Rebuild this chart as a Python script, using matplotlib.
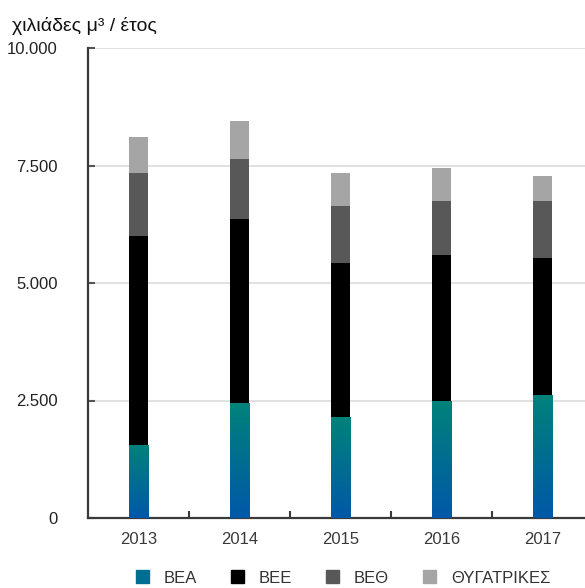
import numpy as np
import matplotlib.pyplot as plt
from matplotlib.colors import LinearSegmentedColormap
from matplotlib.patches import Patch

plt.rcParams['font.family'] = ['Liberation Sans', 'DejaVu Sans']

# Δεδομένα (χιλιάδες μ3 / έτος)
eti = ['2013', '2014', '2015', '2016', '2017']
bea = [1550, 2430, 2130, 2470, 2600]
bee = [4450, 3930, 3290, 3120, 2940]
beth = [1340, 1280, 1220, 1160, 1210]
thygatrikes = [760, 810, 700, 700, 530]
onomata = ['ΒΕΑ', 'ΒΕΕ', 'ΒΕΘ', 'ΘΥΓΑΤΡΙΚΕΣ']

xroma_bee = '#000000'
xroma_beth = '#585858'
xroma_thyg = '#a5a5a5'
diavathmisi = LinearSegmentedColormap.from_list('bea', ['#0058a8', '#00827a'])

fig = plt.figure(figsize=(5.85, 5.88), dpi=100)
ax = fig.add_axes([88 / 585, 1 - 518 / 588, 497 / 585, 470 / 588])

x = np.arange(len(eti))
platos = 0.19
bea = np.array(bea)
bee = np.array(bee)
beth = np.array(beth)
thygatrikes = np.array(thygatrikes)

rabdoi = ax.bar(x, bea, platos, color='none', zorder=3)
ax.bar(x, bee, platos, bottom=bea, color=xroma_bee, zorder=3)
ax.bar(x, beth, platos, bottom=bea + bee, color=xroma_beth, zorder=3)
ax.bar(x, thygatrikes, platos, bottom=bea + bee + beth, color=xroma_thyg, zorder=3)

# χρωματική διαβάθμιση για τις ράβδους ΒΕΑ
grad = np.linspace(0, 1, 256).reshape(-1, 1)
for r in rabdoi:
    x0, y0 = r.get_x(), r.get_y()
    ax.imshow(grad, cmap=diavathmisi, origin='lower', aspect='auto',
              extent=(x0, x0 + r.get_width(), y0, y0 + r.get_height()), zorder=3)

ax.set_xlim(-0.5, 4.42)
ax.set_ylim(0, 10000)
ax.set_yticks([0, 2500, 5000, 7500, 10000])
ax.set_yticklabels(['0', '2.500', '5.000', '7.500', '10.000'])
ax.set_xticks(x)
ax.set_xticklabels(eti)
ax.set_xticks(x[:-1] + 0.5, minor=True)

ax.grid(axis='y', color='#dcdcdc', linewidth=1.2, zorder=0)
ax.set_axisbelow(True)
for s in ['top', 'right']:
    ax.spines[s].set_visible(False)
for s in ['left', 'bottom']:
    ax.spines[s].set_color('#3a3a3a')
    ax.spines[s].set_linewidth(1.6)

ax.tick_params(axis='y', direction='in', length=5, width=1.5, color='#555555',
               labelsize=12, pad=22, labelcolor='#222222')
ax.tick_params(axis='x', which='major', length=0, labelsize=12, pad=10, labelcolor='#3a3a3a')
ax.tick_params(axis='x', which='minor', direction='in', length=5, width=1.5, color='#3a3a3a')

fig.text(12 / 585, 1 - 26 / 588, 'χιλιάδες μ³ / έτος', fontsize=14, color='#111111',
         va='center', ha='left')

handles = [Patch(color='#006e90'), Patch(color=xroma_bee),
           Patch(color=xroma_beth), Patch(color=xroma_thyg)]
fig.legend(handles, onomata, loc='center', bbox_to_anchor=(343 / 585, 1 - 578 / 588),
           ncol=4, frameon=False, fontsize=12, handlelength=0.8, handleheight=0.8,
           columnspacing=2.0, handletextpad=0.9, labelcolor='#333333')

fig.savefig('out.png', dpi=100)
